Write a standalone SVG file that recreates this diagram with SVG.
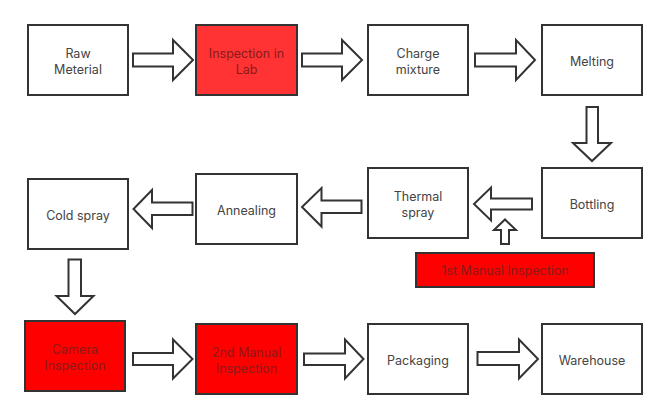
<svg xmlns="http://www.w3.org/2000/svg" width="667" height="419" viewBox="0 0 667 419">
<style>
.box{fill:#ffffff;stroke:#333333;stroke-width:2}
.red1{fill:#ff3333;stroke:#333333;stroke-width:2}
.red2{fill:#ff0000;stroke:#333333;stroke-width:2}
.arr{fill:#ffffff;stroke:#333333;stroke-width:2;stroke-linejoin:miter}
text{font-family:Inter,"Open Sans","Liberation Sans",sans-serif;font-size:12.5px;fill:#444444;text-anchor:middle}
.rt{fill:#8b1a1a}
</style>
<rect width="667" height="419" fill="#ffffff"/>
<g id="connectors">
<polygon class="arr" points="133,53.5 173,53.5 173,40 193,60 173,80 173,66.5 133,66.5"/>
<polygon class="arr" points="302,53.5 342,53.5 342,40 362,60 342,80 342,66.5 302,66.5"/>
<polygon class="arr" points="475,53.5 516,53.5 516,40 535,60 516,80 516,66.5 475,66.5"/>
<polygon class="arr" points="586.5,107 598,107 598,143 611,143 592,161 573,143 586.5,143"/>
<polygon class="arr" points="532,198.5 491,198.5 491,187.5 474,204 491,220.5 491,209.5 532,209.5"/>
<polygon class="arr" points="361.5,200.5 321.5,200.5 321.5,188 302,207 321.5,226.5 321.5,213 361.5,213"/>
<polygon class="arr" points="192.5,202.5 152,202.5 152,190 133.5,209 152,228 152,215 192.5,215"/>
<polygon class="arr" points="501,244 509,244 509,230 516,230 505,219.5 494,230 501,230"/>
<polygon class="arr" points="68.5,259.5 81,259.5 81,296 93.5,296 75,314 56.5,296 68.5,296"/>
<polygon class="arr" points="133,353 173,353 173,339.5 192.5,359 173,378.5 173,365 133,365"/>
<polygon class="arr" points="304,353.5 345,353.5 345,339.5 363.5,359 345,378.5 345,365 304,365"/>
<polygon class="arr" points="477.5,352 519,352 519,339.5 538,359 519,378.5 519,365 477.5,365"/>
</g>
<g id="n-raw"><rect class="box" x="28" y="25" width="100" height="70"/><text x="78" y="57.5">Raw</text><text x="78" y="74">Meterial</text></g>
<g id="n-lab"><rect class="red1" x="196" y="25" width="101" height="70"/><text class="rt" x="246.5" y="57.5">Inspection in</text><text class="rt" x="246.5" y="74">Lab</text></g>
<g id="n-charge"><rect class="box" x="368" y="25" width="100" height="70"/><text x="418" y="57.5">Charge</text><text x="418" y="74">mixture</text></g>
<g id="n-melting"><rect class="box" x="542" y="25" width="100" height="70"/><text x="592" y="66">Melting</text></g>
<g id="n-bottling"><rect class="box" x="542" y="168" width="100" height="70"/><text x="592" y="209">Bottling</text></g>
<g id="n-thermal"><rect class="box" x="368" y="168" width="100" height="70"/><text x="418" y="200.5">Thermal</text><text x="418" y="217">spray</text></g>
<g id="n-1st"><rect class="red2" x="416" y="253" width="178" height="34"/><text class="rt" x="505" y="275">1st Manual Inspection</text></g>
<g id="n-annealing"><rect class="box" x="196" y="174" width="101" height="70"/><text x="246.5" y="215">Annealing</text></g>
<g id="n-cold"><rect class="box" x="28" y="179" width="100" height="70"/><text x="78" y="220">Cold spray</text></g>
<g id="n-camera"><rect class="red2" x="25" y="321" width="100" height="70"/><text class="rt" x="75" y="353.5">Camera</text><text class="rt" x="75" y="370">Inspection</text></g>
<g id="n-2nd"><rect class="red2" x="196" y="324" width="101" height="70"/><text class="rt" x="246.5" y="356.5">2nd Manual</text><text class="rt" x="246.5" y="373">Inspection</text></g>
<g id="n-packaging"><rect class="box" x="368" y="324" width="100" height="70"/><text x="418" y="365">Packaging</text></g>
<g id="n-warehouse"><rect class="box" x="542" y="324" width="100" height="70"/><text x="592" y="365">Warehouse</text></g>
</svg>
